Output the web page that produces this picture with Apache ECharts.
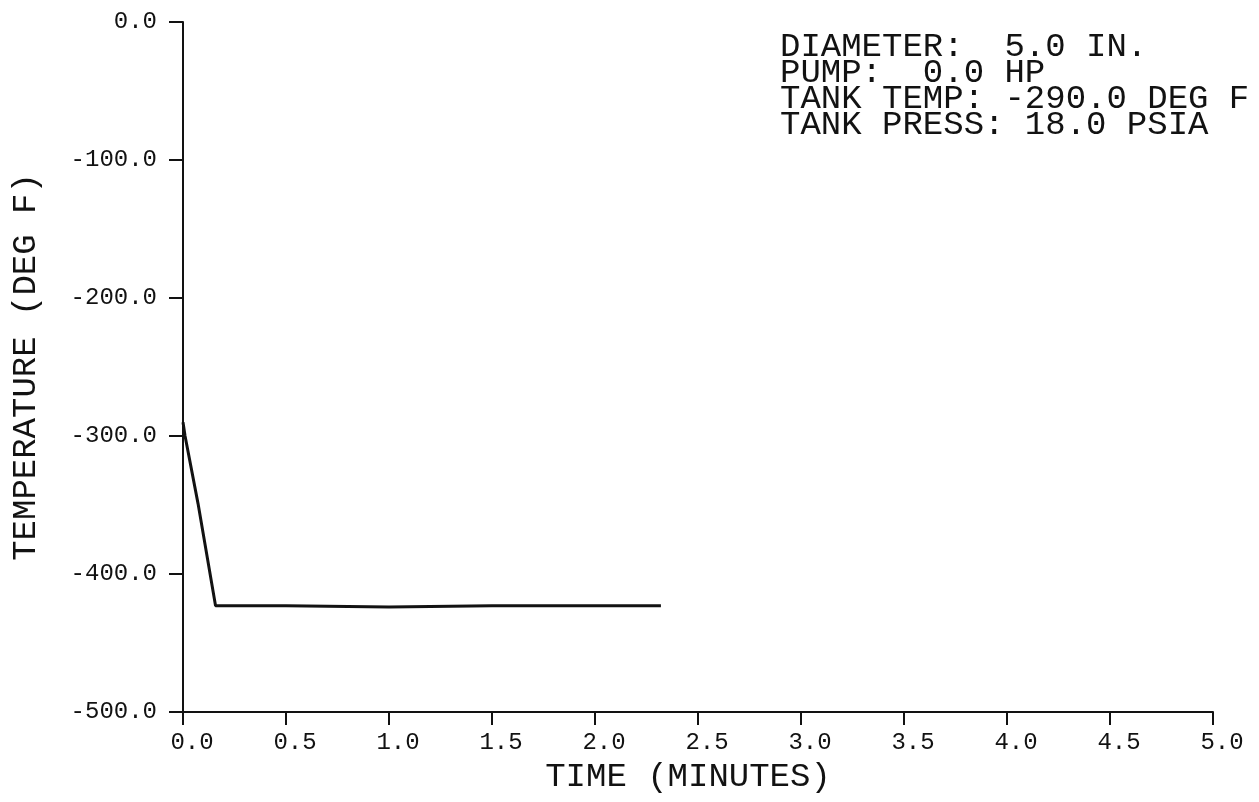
<!DOCTYPE html>
<html>
<head>
<meta charset="utf-8">
<title>Temperature vs Time</title>
<script src="https://cdn.jsdelivr.net/npm/echarts@6/dist/echarts.min.js"></script>
<style>
  html, body { margin: 0; padding: 0; background: #ffffff; }
  #chart { width: 1259px; height: 802px; }
</style>
</head>
<body>
<div id="chart"></div>
<script>
// Line temperature history after start of flow
const timeMin = [0.0, 0.01, 0.073, 0.158, 0.5, 1.0, 1.5, 2.0, 2.32];
const tempF   = [-290, -300, -349, -423, -423, -424, -423, -423, -423];

// Run conditions printed at the top right
const runInfo = [
  'DIAMETER:  5.0 IN.',
  'PUMP:  0.0 HP',
  'TANK TEMP: -290.0 DEG F',
  'TANK PRESS: 18.0 PSIA'
];

const xTitle = 'TIME (MINUTES)';
const yTitle = 'TEMPERATURE (DEG F)';

const FONT = '"Liberation Mono", "DejaVu Sans Mono", monospace';
const INK = '#121212';

const chart = echarts.init(document.getElementById('chart'), null, { renderer: 'canvas' });

chart.setOption({
  backgroundColor: '#ffffff',
  animation: false,
  grid: { left: 183, right: 46, top: 22, bottom: 90, containLabel: false },
  xAxis: {
    type: 'value',
    min: 0, max: 5, interval: 0.5,
    name: xTitle,
    nameLocation: 'middle',
    nameGap: 47,
    nameTextStyle: { fontFamily: FONT, fontSize: 34, color: INK, padding: [0, 20, 0, 0] },
    axisLine: { show: true, onZero: false, lineStyle: { color: INK, width: 2 } },
    axisTick: { show: true, inside: false, length: 13, lineStyle: { color: INK, width: 2 } },
    axisLabel: {
      fontFamily: FONT, fontSize: 24, color: INK, margin: 19,
      padding: [0, 0, 0, 18],
      formatter: v => v.toFixed(1)
    },
    splitLine: { show: false }
  },
  yAxis: {
    type: 'value',
    min: -500, max: 0, interval: 100,
    name: yTitle,
    nameLocation: 'middle',
    nameGap: 140,
    nameTextStyle: { fontFamily: FONT, fontSize: 34, color: INK },
    axisLine: { show: true, onZero: false, lineStyle: { color: INK, width: 2 } },
    axisTick: { show: true, inside: false, length: 14, lineStyle: { color: INK, width: 2 } },
    axisLabel: {
      fontFamily: FONT, fontSize: 24, color: INK, margin: 26,
      formatter: v => v.toFixed(1)
    },
    splitLine: { show: false }
  },
  series: [{
    type: 'line',
    data: timeMin.map((t, i) => [t, tempF[i]]),
    showSymbol: false,
    smooth: false,
    lineStyle: { color: INK, width: 3 }
  }],
  graphic: [{
    type: 'text',
    left: 780,
    top: 30,
    style: {
      text: runInfo.join('\n'),
      fontFamily: FONT,
      fontSize: 34,
      lineHeight: 26,
      fill: INK
    }
  }]
});
</script>
</body>
</html>
